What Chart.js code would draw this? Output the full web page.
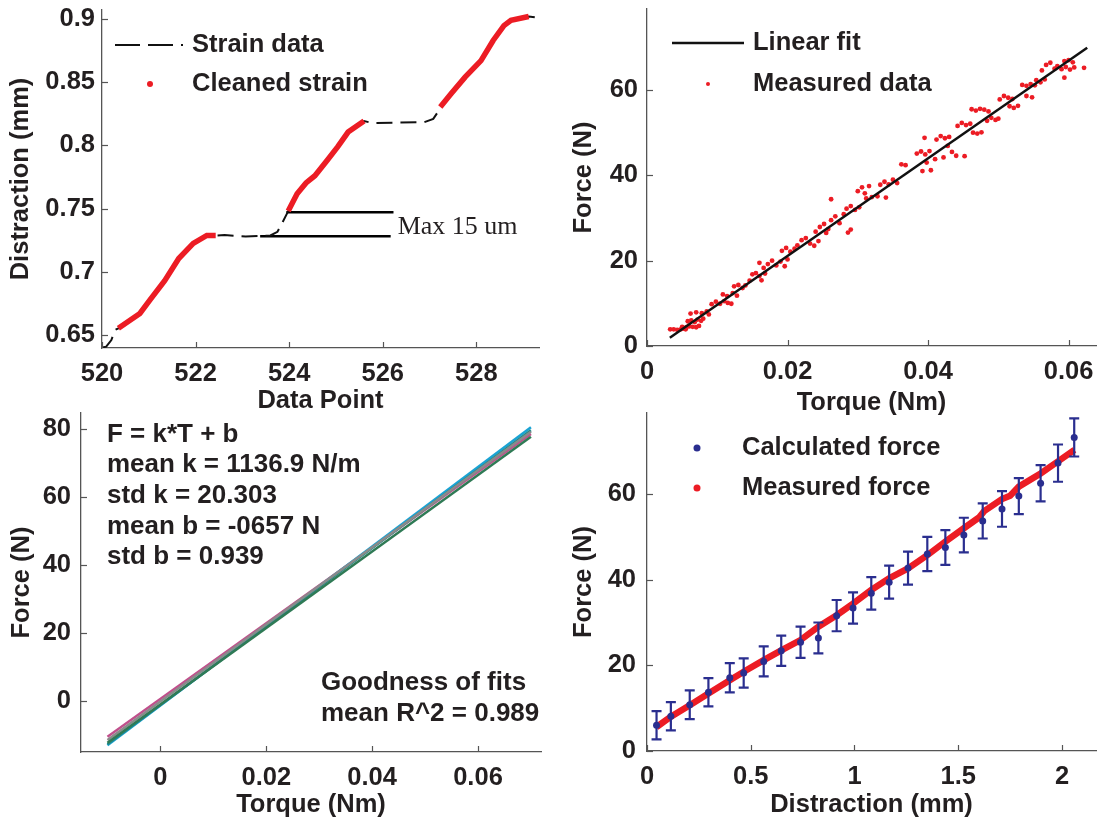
<!DOCTYPE html>
<html>
<head>
<meta charset="utf-8">
<script src="https://cdn.jsdelivr.net/npm/chart.js@4.4.1/dist/chart.umd.min.js"></script>
<style>
  body { margin: 0; background: #fff; }
  #wrap { position: relative; width: 1100px; height: 821px; }
  canvas { position: absolute; left: 0; top: 0; }
</style>
</head>
<body>
<div id="wrap">
  <canvas id="strainChart" width="1100" height="821"></canvas>
  <canvas id="fitChart" width="1100" height="821"></canvas>
  <canvas id="linesChart" width="1100" height="821"></canvas>
  <canvas id="forceChart" width="1100" height="821"></canvas>
</div>
<script>
// ---- panel 1: strain vs data point
var strainX = [520.0, 520.09, 520.2, 520.28, 520.35, 520.81, 521.03, 521.34, 521.64, 521.95, 522.24, 522.43,
  522.62, 523.07, 523.6, 523.75, 523.87, 523.98, 524.17, 524.36, 524.55, 524.81, 525.04, 525.26, 525.6,
  525.79, 526.32, 526.89, 527.08, 527.19, 527.23, 527.46, 527.76, 528.1, 528.36, 528.59, 528.74, 529.12, 529.34];
var strainY = [0.640, 0.6408, 0.646, 0.654, 0.6553, 0.667, 0.678, 0.693, 0.7105, 0.7224, 0.7287, 0.7287,
  0.729, 0.728, 0.7287, 0.7316, 0.740, 0.748, 0.7618, 0.7703, 0.776, 0.788, 0.799, 0.8105, 0.8192,
  0.8176, 0.818, 0.8184, 0.821, 0.827, 0.8303, 0.8408, 0.854, 0.867, 0.883, 0.8947, 0.899, 0.902, 0.9008];
// null marks a break between cleaned segments
var cleanX = [520.35, 520.81, 521.03, 521.34, 521.64, 521.95, 522.24, 522.43, 523.0,
  523.98, 524.17, 524.36, 524.55, 524.81, 525.04, 525.26, 525.6, 526.5,
  527.23, 527.46, 527.76, 528.1, 528.36, 528.59, 528.74, 529.12];
var cleanY = [0.6553, 0.667, 0.678, 0.693, 0.7105, 0.7224, 0.7287, 0.7287, null,
  0.748, 0.7618, 0.7703, 0.776, 0.788, 0.799, 0.8105, 0.8192, null,
  0.8303, 0.8408, 0.854, 0.867, 0.883, 0.8947, 0.899, 0.902];
var maxUpperX = [523.94, 526.23], maxUpperY = [0.7471, 0.7471];
var maxLowerX = [523.38, 526.17], maxLowerY = [0.7282, 0.7282];
var p1XTicks = [520, 522, 524, 526, 528], p1XLabels = ['520', '522', '524', '526', '528'];
var p1YTicks = [0.65, 0.7, 0.75, 0.8, 0.85, 0.9], p1YLabels = ['0.65', '0.7', '0.75', '0.8', '0.85', '0.9'];

// ---- panel 2: force vs torque with linear fit
var measTorque = [0.0033, 0.0038, 0.0043, 0.0048, 0.0052, 0.0055, 0.0050, 0.0056, 0.0060, 0.0065, 0.0070, 0.0074,
  0.0058, 0.0063, 0.0068, 0.0072, 0.0077, 0.0080, 0.0062, 0.0070, 0.0078, 0.0085, 0.0088,
  0.0092, 0.0098, 0.0104, 0.0110, 0.0115, 0.0120, 0.0108, 0.0114, 0.0122, 0.0128,
  0.0124, 0.0130, 0.0136, 0.0140, 0.0146, 0.0150, 0.0155, 0.0160, 0.0163, 0.0168, 0.0160, 0.0166,
  0.0172, 0.0178, 0.0184, 0.0190, 0.0196, 0.0200, 0.0192, 0.0198, 0.0204, 0.0210,
  0.0214, 0.0220, 0.0226, 0.0232, 0.0238, 0.0244, 0.0240, 0.0246, 0.0252, 0.0258, 0.0262,
  0.0255, 0.0262, 0.0268, 0.0274, 0.0280, 0.0286, 0.0290, 0.0284, 0.0290, 0.0296, 0.0302,
  0.0300, 0.0306, 0.0310, 0.0316, 0.0312, 0.0320, 0.0328, 0.0340,
  0.0332, 0.0338, 0.0344, 0.0350, 0.0356, 0.0362, 0.0368,
  0.0384, 0.0390, 0.0396, 0.0402, 0.0392, 0.0398, 0.0404, 0.0410, 0.0395,
  0.0412, 0.0418, 0.0424, 0.0430, 0.0422, 0.0428, 0.0434, 0.0440,
  0.0442, 0.0448, 0.0454, 0.0460, 0.0452, 0.0464, 0.0470, 0.0476,
  0.0462, 0.0468, 0.0474, 0.0480, 0.0486, 0.0484, 0.0490, 0.0496, 0.0500,
  0.0502, 0.0508, 0.0514, 0.0520, 0.0516, 0.0522, 0.0528,
  0.0534, 0.0540, 0.0546, 0.0552, 0.0540, 0.0548, 0.0554, 0.0560, 0.0566,
  0.0562, 0.0568, 0.0574, 0.0580, 0.0584, 0.0590, 0.0596, 0.0602, 0.0608,
  0.0594, 0.0600, 0.0606, 0.0594, 0.0622];
var measForce = [3.9, 3.9, 3.8, 3.9, 4.1, 3.9, 4.5, 4.4, 4.6, 4.5, 4.4, 4.7,
  5.8, 6.0, 5.6, 6.2, 5.9, 6.4, 7.6, 7.9, 7.7, 8.1, 7.4,
  9.8, 10.4, 9.9, 10.5, 10.1, 9.9, 12.1, 11.7, 12.4, 11.8,
  14.0, 14.3, 13.6, 14.2, 15.3, 16.8, 17.1, 16.4, 15.4, 17.0, 19.5, 18.3,
  19.2, 20.0, 18.9, 19.8, 18.7, 20.3, 22.3, 23.0, 22.1, 22.8,
  23.6, 24.8, 25.3, 24.0, 23.5, 24.6, 26.8, 27.9, 28.6, 27.4, 34.4,
  26.5, 29.5, 30.4, 28.8, 30.9, 26.6, 27.3, 32.2, 32.8, 31.9, 32.5,
  36.3, 37.2, 35.8, 37.5, 34.6, 34.9, 35.1, 34.8,
  37.8, 38.5, 37.9, 39.0, 38.2, 42.6, 42.4,
  45.1, 45.6, 44.9, 45.7, 41.0, 43.0, 41.2, 43.8, 48.8,
  48.4, 49.2, 48.7, 49.0, 44.2, 46.9, 45.5, 44.6,
  51.6, 52.3, 51.8, 52.1, 44.5, 50.0, 49.8, 50.1,
  55.5, 55.2, 55.6, 55.4, 55.0, 52.8, 53.5, 53.0, 53.3,
  57.8, 58.6, 58.2, 57.9, 56.2, 55.8, 56.3,
  61.2, 61.0, 61.4, 61.1, 58.6, 58.3, 62.3, 61.8, 62.5,
  64.6, 65.9, 66.4, 65.0, 65.6, 64.9, 65.4, 64.8, 65.3,
  66.8, 67.0, 66.5, 62.9, 65.2];
var fitTorque = [0.00325, 0.06265], fitForce = [1.95, 69.9];
var p2XTicks = [0, 0.02, 0.04, 0.06], p2XLabels = ['0', '0.02', '0.04', '0.06'];
var p2YTicks = [0, 20, 40, 60], p2YLabels = ['0', '20', '40', '60'];

// ---- panel 3: individual linear fits
var fitLineX = [-0.01, 0.07];
var fitCyan = [-13.1, 80.5];
var fitTeal = [-12.8, 79.6];
var fitGray = [-11.6, 79.2];
var fitPink = [-10.6, 78.5];
var fitGreen = [-12.4, 77.7];
var p3XTicks = [0, 0.02, 0.04, 0.06], p3XLabels = ['0', '0.02', '0.04', '0.06'];
var p3YTicks = [0, 20, 40, 60, 80], p3YLabels = ['0', '20', '40', '60', '80'];

// ---- panel 4: calculated vs measured force
var calcDist = [0.046, 0.115, 0.206, 0.296, 0.399, 0.466, 0.5625, 0.647, 0.74, 0.826, 0.914, 0.993,
  1.081, 1.167, 1.258, 1.351, 1.438, 1.527, 1.618, 1.711, 1.792, 1.897, 1.981, 2.059];
var calcForce = [6.0, 8.1, 10.8, 13.7, 17.1, 18.2, 20.9, 23.4, 25.4, 26.4, 31.6, 33.4,
  36.8, 39.4, 42.7, 46.0, 47.5, 50.4, 53.7, 56.5, 59.5, 62.5, 67.2, 73.2];
var calcErr = [3.3, 3.3, 3.35, 3.3, 3.4, 3.4, 3.5, 3.55, 3.65, 3.6, 3.65, 3.65,
  3.8, 3.85, 3.85, 4.0, 4.05, 4.05, 4.1, 4.15, 4.2, 4.25, 4.35, 4.45];
var measDist = [0.046, 0.115, 0.206, 0.296, 0.399, 0.466, 0.5625, 0.647, 0.74, 0.826, 0.914, 0.993,
  1.081, 1.167, 1.258, 1.351, 1.438, 1.527, 1.600, 1.625, 1.711, 1.750, 1.792, 1.897, 1.981, 2.06];
var measForce4 = [5.6, 8.0, 10.7, 13.4, 16.5, 18.5, 21.2, 23.5, 25.9, 29.0, 31.7, 34.4,
  37.6, 40.3, 42.6, 45.7, 48.9, 52.0, 54.5, 56.0, 58.8, 59.6, 61.7, 64.8, 67.6, 70.3];
var p4XTicks = [0, 0.5, 1, 1.5, 2], p4XLabels = ['0', '0.5', '1', '1.5', '2'];
var p4YTicks = [0, 20, 40, 60], p4YLabels = ['0', '20', '40', '60'];

var RED = '#ec1c24', BLUE = '#2a2e8f', INK = '#231f20', AXIS = '#555';
var FONT = { family: "'Liberation Sans', Arial, Helvetica, sans-serif", size: 25.5, weight: 'bold' };
var CSSFONT = "bold 25.5px 'Liberation Sans', Arial, sans-serif";

function pts(xs, ys) {
  return xs.map(function (x, i) { return { x: x, y: ys[i] }; });
}

function axis(min, max, ticks, labels, title, size, pad, isX) {
  return {
    type: 'linear', min: min, max: max,
    grid: { display: false, drawTicks: false },
    border: { display: true, color: AXIS, width: 1.3 },
    ticks: {
      color: INK, font: FONT, padding: pad, autoSkip: false, maxRotation: 0,
      callback: function (v, i) { return labels[i]; }
    },
    afterBuildTicks: function (s) { s.ticks = ticks.map(function (v) { return { value: v }; }); },
    afterFit: function (s) {
      if (isX) s.height = size; else s.width = size;
      s.paddingTop = s.paddingBottom = s.paddingLeft = s.paddingRight = 0;
    },
    title: { display: true, text: title, color: INK, font: FONT, padding: isX ? { top: 4, bottom: 1 } : 4 }
  };
}

// small tick marks pointing into the plot, like the original
var inwardTicks = {
  id: 'inwardTicks',
  afterDatasetsDraw: function (chart) {
    var ctx = chart.ctx, a = chart.chartArea, xs = chart.scales.x, ys = chart.scales.y;
    ctx.save();
    ctx.strokeStyle = AXIS; ctx.lineWidth = 1.2;
    xs.ticks.forEach(function (t) {
      var p = Math.round(xs.getPixelForValue(t.value)) + 0.5;
      ctx.beginPath(); ctx.moveTo(p, a.bottom); ctx.lineTo(p, a.bottom - 6); ctx.stroke();
    });
    ys.ticks.forEach(function (t) {
      var p = Math.round(ys.getPixelForValue(t.value)) + 0.5;
      ctx.beginPath(); ctx.moveTo(a.left, p); ctx.lineTo(a.left + 6, p); ctx.stroke();
    });
    ctx.restore();
  }
};

// legend drawn inside the plot + free text notes
var notesLegend = {
  id: 'notesLegend',
  afterDraw: function (chart, args, opts) {
    var ctx = chart.ctx;
    ctx.save();
    (opts.items || []).forEach(function (it) {
      ctx.strokeStyle = it.color; ctx.fillStyle = it.color;
      if (it.sym === 'line') {
        ctx.lineWidth = it.w || 2;
        ctx.setLineDash(it.dash || []);
        ctx.beginPath(); ctx.moveTo(it.x1, it.y); ctx.lineTo(it.x2, it.y); ctx.stroke();
        ctx.setLineDash([]);
      } else {
        ctx.beginPath(); ctx.arc(it.cx, it.y, it.r, 0, Math.PI * 2); ctx.fill();
      }
      ctx.fillStyle = INK; ctx.font = CSSFONT;
      ctx.textAlign = 'left'; ctx.textBaseline = 'middle';
      ctx.fillText(it.text, it.tx, it.y);
    });
    (opts.notes || []).forEach(function (n) {
      var x = n.x, y = n.y;
      if (n.dx !== undefined) { x = chart.scales.x.getPixelForValue(n.dx); y = chart.scales.y.getPixelForValue(n.dy); }
      ctx.fillStyle = INK; ctx.font = n.font || CSSFONT;
      ctx.textAlign = 'left'; ctx.textBaseline = 'middle';
      ctx.fillText(n.text, x, y);
    });
    ctx.restore();
  }
};

// vertical error bars for the calculated force
var errorBars = {
  id: 'errorBars',
  afterDatasetsDraw: function (chart, args, opts) {
    if (!opts.errors) return;
    var ctx = chart.ctx, xs = chart.scales.x, ys = chart.scales.y;
    ctx.save();
    ctx.strokeStyle = opts.color; ctx.lineWidth = 2.2;
    opts.xs.forEach(function (x, i) {
      var px = xs.getPixelForValue(x);
      var top = ys.getPixelForValue(opts.ys[i] + opts.errors[i]);
      var bot = ys.getPixelForValue(opts.ys[i] - opts.errors[i]);
      ctx.beginPath();
      ctx.moveTo(px, top); ctx.lineTo(px, bot);
      ctx.moveTo(px - 5, top); ctx.lineTo(px + 5, top);
      ctx.moveTo(px - 5, bot); ctx.lineTo(px + 5, bot);
      ctx.stroke();
    });
    ctx.restore();
  }
};

Chart.register(inwardTicks, notesLegend, errorBars);

function baseOptions(padding, xScale, yScale, extra) {
  var plugins = { legend: { display: false }, tooltip: { enabled: false } };
  Object.keys(extra).forEach(function (k) { plugins[k] = extra[k]; });
  return {
    responsive: false, animation: false, events: [],
    layout: { padding: padding },
    scales: { x: xScale, y: yScale },
    plugins: plugins
  };
}

// panel 1
new Chart(document.getElementById('strainChart'), {
  type: 'scatter',
  data: {
    datasets: [{
      label: 'Cleaned strain', data: pts(cleanX, cleanY), showLine: true, spanGaps: false,
      borderColor: RED, borderWidth: 5.5, pointRadius: 0
    }, {
      label: 'Strain data', data: pts(strainX, strainY), showLine: true,
      borderColor: '#111', borderWidth: 2, borderDash: [16, 8], pointRadius: 0
    }, {
      label: 'max upper', data: pts(maxUpperX, maxUpperY), showLine: true,
      borderColor: '#000', borderWidth: 2.5, pointRadius: 0
    }, {
      label: 'max lower', data: pts(maxLowerX, maxLowerY), showLine: true,
      borderColor: '#000', borderWidth: 2.5, pointRadius: 0
    }]
  },
  options: baseOptions({ left: 2, top: 10, right: 561, bottom: 404 },
    axis(520, 529.34, p1XTicks, p1XLabels, 'Data Point', 69, 11, true),
    axis(0.6397, 0.9071, p1YTicks, p1YLabels, 'Distraction (mm)', 100, 7, false),
    {
      notesLegend: {
        items: [
          { sym: 'line', x1: 115, x2: 183, y: 45, color: '#111', w: 2, dash: [25, 8], text: 'Strain data', tx: 192 },
          { sym: 'dot', cx: 150, y: 84, r: 3, color: RED, text: 'Cleaned strain', tx: 192 }
        ],
        notes: [{ text: 'Max 15 um', dx: 526.32, dy: 0.7355, font: "26px 'Liberation Serif', 'Times New Roman', serif" }]
      }
    })
});

// panel 2
new Chart(document.getElementById('fitChart'), {
  type: 'scatter',
  data: {
    datasets: [{
      label: 'Linear fit', data: pts(fitTorque, fitForce), showLine: true,
      borderColor: '#111', borderWidth: 2.5, pointRadius: 0
    }, {
      label: 'Measured data', data: pts(measTorque, measForce),
      backgroundColor: RED, borderWidth: 0, pointRadius: 2.4
    }]
  },
  options: baseOptions({ left: 565, top: 9, right: 2, bottom: 402 },
    axis(0, 0.0639, p2XTicks, p2XLabels, 'Torque (Nm)', 73, 11, true),
    axis(0, 79, p2YTicks, p2YLabels, 'Force (N)', 82, 9, false),
    {
      notesLegend: {
        items: [
          { sym: 'line', x1: 672, x2: 744, y: 43, color: '#111', w: 2.5, text: 'Linear fit', tx: 753 },
          { sym: 'dot', cx: 708, y: 84, r: 2, color: RED, text: 'Measured data', tx: 753 }
        ]
      }
    })
});

// panel 3
var lineSets = [[fitGreen, '#2f7a55'], [fitGray, '#8a8a8a'], [fitTeal, '#1f8a8a'], [fitCyan, '#1aa3d4'], [fitPink, '#c0508c']];
new Chart(document.getElementById('linesChart'), {
  type: 'scatter',
  data: {
    datasets: lineSets.map(function (s, i) {
      return { label: 'fit ' + (i + 1), data: pts(fitLineX, s[0]), showLine: true,
        borderColor: s[1], borderWidth: 2.5, pointRadius: 0 };
    })
  },
  options: baseOptions({ left: 3, top: 413, right: 559, bottom: 0 },
    axis(-0.015, 0.0719, p3XTicks, p3XLabels, 'Torque (Nm)', 69, 11, true),
    axis(-15.1, 84.7, p3YTicks, p3YLabels, 'Force (N)', 78, 10, false),
    {
      notesLegend: {
        notes: [
          { text: 'F = k*T + b', x: 107, y: 435 },
          { text: 'mean k = 1136.9 N/m', x: 107, y: 465 },
          { text: 'std k = 20.303', x: 107, y: 496 },
          { text: 'mean b = -0657 N', x: 107, y: 527 },
          { text: 'std b = 0.939', x: 107, y: 557 },
          { text: 'Goodness of fits', x: 321, y: 683 },
          { text: 'mean R^2 = 0.989', x: 321, y: 714 }
        ].map(function (n) { n.font = "bold 26px 'Liberation Sans', Arial, sans-serif"; return n; })
      }
    })
});

// panel 4
new Chart(document.getElementById('forceChart'), {
  type: 'scatter',
  data: {
    datasets: [{
      label: 'Calculated force', data: pts(calcDist, calcForce),
      backgroundColor: BLUE, borderWidth: 0, pointRadius: 3.5
    }, {
      label: 'Measured force', data: pts(measDist, measForce4), showLine: true,
      borderColor: RED, borderWidth: 6.5, pointRadius: 0
    }]
  },
  options: baseOptions({ left: 565, top: 413, right: 1, bottom: 0 },
    axis(0, 2.164, p4XTicks, p4XLabels, 'Distraction (mm)', 70, 11, true),
    axis(0, 78.9, p4YTicks, p4YLabels, 'Force (N)', 82, 11, false),
    {
      errorBars: { xs: calcDist, ys: calcForce, errors: calcErr, color: BLUE },
      notesLegend: {
        items: [
          { sym: 'dot', cx: 697, y: 448, r: 3.5, color: BLUE, text: 'Calculated force', tx: 742 },
          { sym: 'dot', cx: 697, y: 488, r: 3.5, color: RED, text: 'Measured force', tx: 742 }
        ]
      }
    })
});
</script>
</body>
</html>
